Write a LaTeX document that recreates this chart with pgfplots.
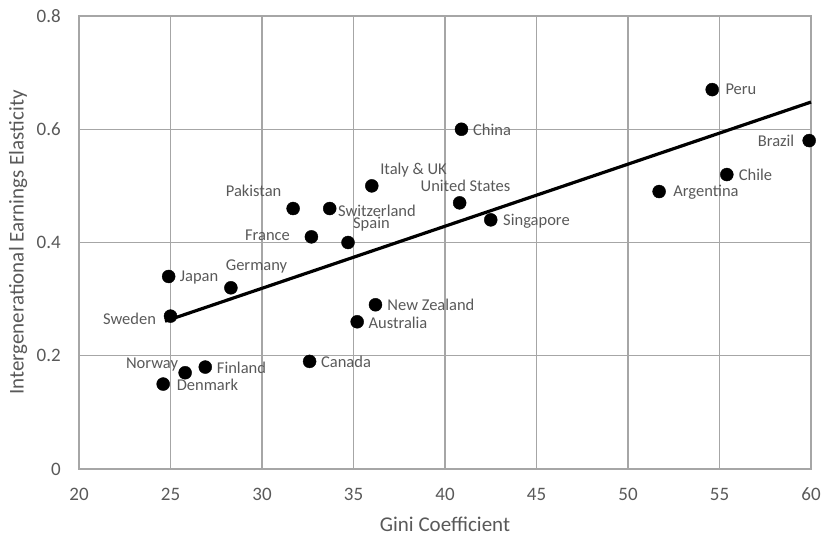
\documentclass[border=0pt]{standalone}
\usepackage{fontspec}
\setmainfont{Carlito}
\usepackage{pgfplots}
\usepackage{pgfplotstable}
\pgfplotsset{compat=1.18}
\definecolor{txt}{HTML}{595959}
\definecolor{gridc}{HTML}{A6A6A6}

\pgfplotstableread[col sep=comma]{
x,y
54.6,0.67
59.9,0.58
55.4,0.52
51.7,0.49
40.9,0.60
36.0,0.50
40.8,0.47
42.5,0.44
31.7,0.46
33.7,0.46
32.7,0.41
34.7,0.40
24.9,0.34
28.3,0.32
25.0,0.27
36.2,0.29
35.2,0.26
32.6,0.19
25.8,0.17
26.9,0.18
24.6,0.15
}\pts

\pgfplotstableread[col sep=comma]{
x,y,label
56.17,0.670,Peru
58.09,0.580,Brazil
56.97,0.519,Chile
54.26,0.488,Argentina
42.57,0.599,China
38.28,0.528,Italy \& UK
41.12,0.500,United States
45.00,0.438,Singapore
29.54,0.491,Pakistan
36.28,0.456,Switzerland
30.30,0.413,France
35.98,0.433,Spain
26.56,0.339,Japan
29.70,0.357,Germany
22.76,0.265,Sweden
39.23,0.290,New Zealand
37.43,0.258,Australia
34.59,0.189,Canada
23.99,0.184,Norway
28.88,0.178,Finland
27.02,0.148,Denmark
}\labs

\begin{document}
\begin{tikzpicture}
\begin{axis}[
  scale only axis,
  width=732pt, height=453pt,
  xmin=20, xmax=60, ymin=0, ymax=0.8,
  xtick={20,25,...,60},
  ytick={0,0.2,0.4,0.6,0.8},
  yticklabel={\pgfmathprintnumber[fixed,precision=1]{\tick}},
  /pgf/number format/assume math mode=true,
  grid=major,
  major grid style={draw=gridc, line width=1.4pt},
  axis line style={draw=gridc, line width=1.4pt},
  tick style={draw=none},
  clip=false,
  font=\fontsize{19}{22}\selectfont,
  tick label style={text=txt},
  xticklabel style={anchor=center, yshift=-25pt},
  yticklabel style={anchor=east, inner sep=0pt, xshift=-18pt},
  xlabel={Gini Coefficient},
  ylabel={Intergenerational Earnings Elasticity},
  every axis x label/.style={at={(axis description cs:0.5,-0.1214)}, anchor=center, inner sep=0pt, text=txt, font=\fontsize{21}{24}\selectfont},
  every axis y label/.style={at={(axis description cs:-0.0833,0.5)}, rotate=90, anchor=center, inner sep=0pt, text=txt, font=\fontsize{21}{24}\selectfont},
]
\addplot[only marks, mark=*, mark size=6.5pt, black] table[x=x, y=y] {\pts};
\addplot[black, line width=3.2pt, no marks] coordinates {(24.7,0.261) (60,0.648)};
\addplot[draw=none, no marks, nodes near coords, point meta=explicit symbolic,
  every node near coord/.style={anchor=center, text=txt, inner sep=0pt, font=\fontsize{16.5}{19}\selectfont}]
  table[x=x, y=y, meta=label] {\labs};
\coordinate (sw) at (rel axis cs:0,0);
\coordinate (ne) at (rel axis cs:1,1);
\end{axis}
\pgfresetboundingbox
\path[use as bounding box] ([xshift=-79pt,yshift=-65pt]sw) rectangle ([xshift=11pt,yshift=16pt]ne);
\end{tikzpicture}
\end{document}
